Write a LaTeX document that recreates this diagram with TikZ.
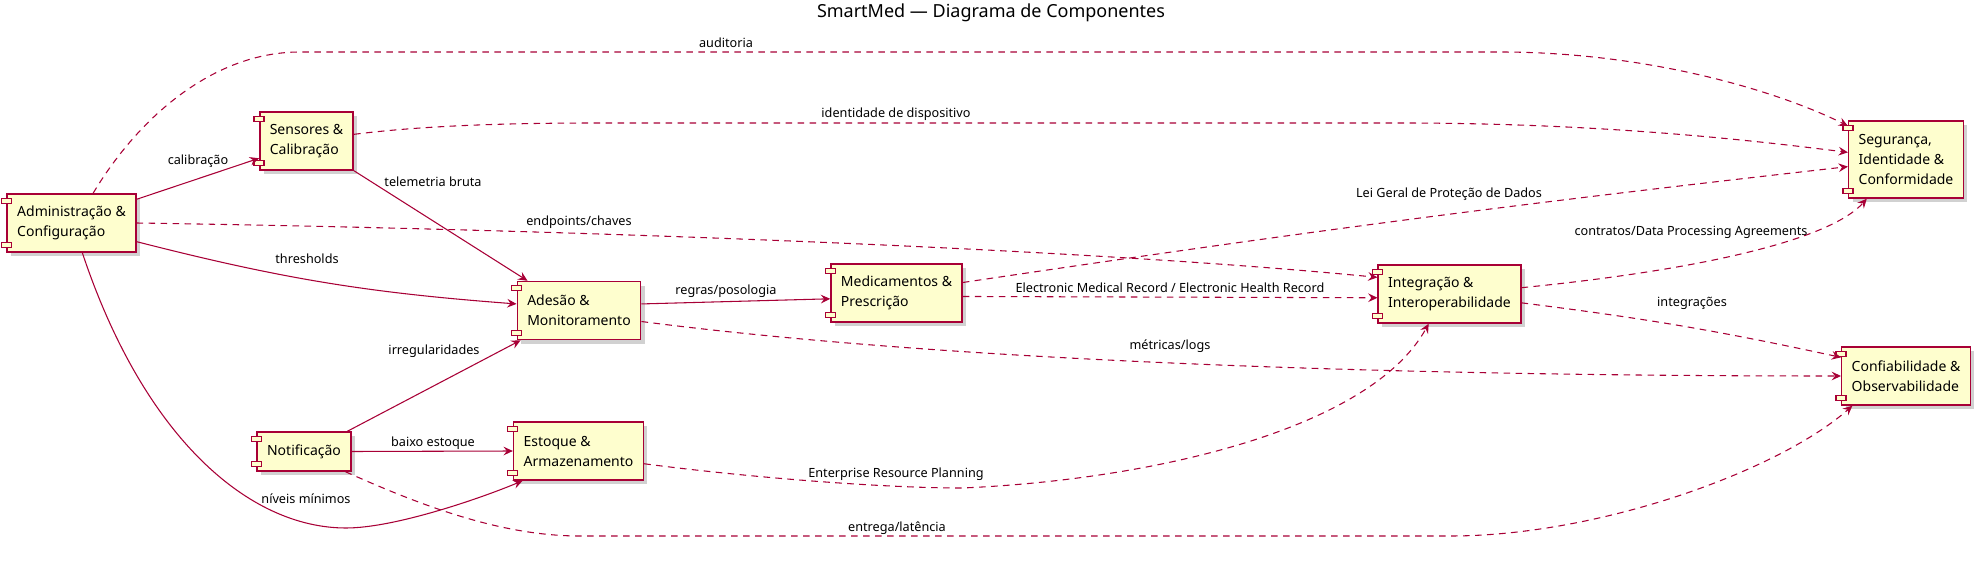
\documentclass[tikz,border=0pt]{standalone}
\usepackage{fontspec}
\setmainfont{Noto Sans}
\usetikzlibrary{arrows.meta,shadows}

\definecolor{umlred}{HTML}{A80036}
\definecolor{umlfill}{HTML}{FEFECE}

\tikzset{
    comp/.style={draw=umlred, fill=umlfill, line width=1.1pt, align=left,
        inner xsep=7.5pt, minimum height=43.5pt, font=\fontsize{10.5}{15}\selectfont,
        drop shadow={shadow xshift=3pt, shadow yshift=-3pt, opacity=0.3, fill=black!60}},
    comptab/.style={draw=umlred, fill=umlfill, line width=0.9pt},
    lbl/.style={font=\fontsize{9.5}{11}\selectfont, inner sep=0pt},
    flow/.style={draw=umlred, line width=0.8pt, -{Stealth[length=7pt,width=6.5pt,inset=2.5pt]}},
    dep/.style={flow, dash pattern=on 5pt off 4pt}
}

\begin{document}
\begin{tikzpicture}[x=0.75pt, y=-0.75pt]
    \useasboundingbox (0,0) rectangle (1982,563);

    % the title
    \node[font=\fontsize{13.5}{16}\selectfont] (title) at (991,13) {SmartMed — Diagrama de Componentes};

    % the components
    \node[comp] (adm) at (71.5,223) {Administração \&\\Configuração};
    \node[comp] (sens) at (306.5,141) {Sensores \&\\Calibração};
    \node[comp] (ades) at (579,310.5) {Adesão \&\\Monitoramento};
    \node[comp, minimum height=29.25pt] (notif) at (304,451.5) {Notificação};
    \node[comp] (est) at (578.5,451) {Estoque \&\\Armazenamento};
    \node[comp] (med) at (896.5,293) {Medicamentos \&\\Prescrição};
    \node[comp] (integ) at (1449.5,294) {Integração \&\\Interoperabilidade};
    \node[comp, minimum height=57.75pt] (seg) at (1906,159.5) {Segurança,\\Identidade \&\\Conformidade};
    \node[comp] (conf) at (1906,376) {Confiabilidade \&\\Observabilidade};

    % the two small tabs on the left side of every component
    \foreach \n in {adm,sens,ades,notif,est,med,integ,seg,conf} {
        \draw[comptab] ([xshift=-3.75pt,yshift=-3.75pt]\n.north west) rectangle ++(7.5pt,-3.75pt);
        \draw[comptab] ([xshift=-3.75pt,yshift=3.75pt]\n.south west) rectangle ++(7.5pt,3.75pt);
    }

    % solid connectors
    \draw[flow] (adm.20) -- (sens.200);
    \draw[flow] (sens.south east) -- (ades.150);
    \draw[flow] (adm.-16) to[bend right=5] (ades.174);
    \draw[flow] (adm.-70) .. controls (144,438) and (249,528) .. (346,528)
        .. controls (396,528) and (484,497) .. (est.208);
    \draw[flow] (notif.25) -- (ades.207);
    \draw[flow] (notif.east) -- (est.west);
    \draw[flow] (ades.6) -- (med.185);

    % dashed connectors
    \draw[dep] (adm.54) .. controls (140,115) and (215,52) .. (300,52) -- (1500,52)
        .. controls (1650,52) and (1780,92) .. (seg.150);
    \draw[dep] (sens.8) .. controls (420,126) and (500,123) .. (600,123) -- (1400,123)
        .. controls (1600,123) and (1750,140) .. (seg.173);
    \draw[dep] (med.9) to[bend left=1] (seg.187);
    \draw[dep] (integ.5) .. controls (1700,270) and (1830,240) .. (seg.225);
    \draw[dep] (med.-3) -- (integ.183);
    \draw[dep] (adm.east) .. controls (600,230) and (1100,250) .. (integ.167);
    \draw[dep] (ades.-10) .. controls (900,355) and (1300,376) .. (conf.west);
    \draw[dep] (integ.-7) to[bend left=2.5] (conf.164);
    \draw[dep] (est.-11) .. controls (745,477) and (880,488) .. (962,488)
        .. controls (1150,480) and (1370,430) .. (integ.235);
    \draw[dep] (notif.-26) .. controls (420,505) and (500,536) .. (580,536) -- (1450,536)
        .. controls (1600,536) and (1780,470) .. (conf.209);

    % the labels
    \node[lbl] (lAud) at (726,43) {auditoria};
    \node[lbl] (lIdent) at (896,114) {identidade de dispositivo};
    \node[lbl] (lLgpd) at (1449,194) {Lei Geral de Proteção de Dados};
    \node[lbl] (lContr) at (1691,232) {contratos/Data Processing Agreements};
    \node[lbl] (lCalib) at (198,161) {calibração};
    \node[lbl] (lTele) at (433,182) {telemetria bruta};
    \node[lbl] (lThr) at (307,259) {thresholds};
    \node[lbl] (lNiv) at (306,499) {níveis mínimos};
    \node[lbl] (lIrr) at (434,351) {irregularidades};
    \node[lbl] (lBaixo) at (433,443) {baixo estoque};
    \node[lbl] (lRegras) at (726,291) {regras/posologia};
    \node[lbl] (lEmr) at (1170,288) {Electronic Medical Record / Electronic Health Record};
    \node[lbl] (lEnd) at (579,222) {endpoints/chaves};
    \node[lbl] (lMetr) at (1170,346) {métricas/logs};
    \node[lbl] (lInteg) at (1692,303) {integrações};
    \node[lbl] (lErp) at (896,474) {Enterprise Resource Planning};
    \node[lbl] (lEntr) at (897,528) {entrega/latência};

\end{tikzpicture}
\end{document}
